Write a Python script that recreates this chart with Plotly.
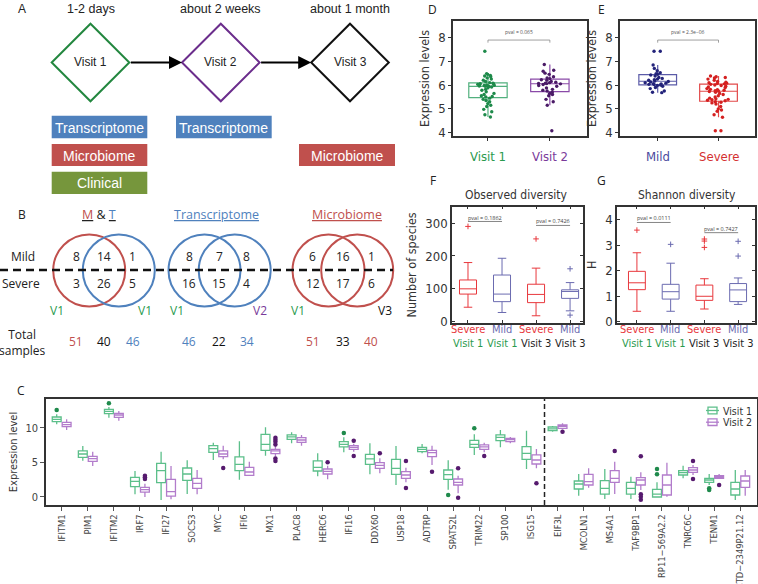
import plotly.graph_objects as go

W, H = 758, 584
def X(px): return px / W
def Y(py): return 1 - py / H

FA = "Liberation Sans, Arial, sans-serif"
FB = "Open Sans, sans-serif"
FN = "Liberation Sans Narrow, DejaVu Sans Condensed, Lato, sans-serif"

# ---------------- Panel A data ----------------
visit_names = ["Visit 1", "Visit 2", "Visit 3"]
visit_times = ["1-2 days", "about 2 weeks", "about 1 month"]
visit_colors = ["#23873f", "#6b2d8c", "#111111"]

# ---------------- Panel B data ----------------
venn_titles = ["M & T", "Transcriptome", "Microbiome"]
mt_mild, mt_severe, mt_total = [8, 14, 1], [3, 26, 5], [51, 40, 46]
tr_mild, tr_severe, tr_total = [8, 7, 8], [16, 15, 4], [46, 22, 34]
mb_mild, mb_severe, mb_total = [6, 16, 1], [12, 17, 6], [51, 33, 40]
venn_visits = [["V1", "V1"], ["V1", "V2"], ["V1", "V3"]]

# ---------------- Panel C data ----------------
genes = ["IFITM1", "PIM1", "IFITM2", "IRF7", "IFI27", "SOCS3", "MYC", "IFI6", "MX1", "PLAC8",
         "HERC6", "IFI16", "DDX60", "USP18", "ADTRP", "SPATS2L", "TRIM22", "SP100", "ISG15",
         "EIF3L", "MCOLN1", "MS4A1", "TAF9BP1", "RP11\u2212569A2.2", "TNRC6C", "TENM1",
         "CTD\u22122349P21.12"]
v1_q1 = [10.92, 5.75, 12.08, 1.50, 2.08, 2.42, 6.47, 3.82, 6.76, 8.36, 3.77, 7.25, 4.73, 3.29,
         6.57, 2.56, 7.20, 8.16, 5.46, 9.61, 1.16, 0.43, 0.43, 0.00, 3.19, 2.13, 0.29]
v1_med = [11.26, 6.23, 12.42, 2.27, 3.82, 3.33, 7.00, 4.73, 7.63, 8.70, 4.30, 7.63, 5.51, 4.15,
          6.91, 3.24, 7.63, 8.65, 6.33, 9.86, 1.88, 1.26, 1.26, 0.43, 3.53, 2.46, 1.16]
v1_q3 = [11.59, 6.67, 12.71, 2.85, 4.88, 4.20, 7.44, 5.80, 9.08, 8.99, 5.22, 8.02, 6.18, 5.46,
         7.20, 3.91, 8.21, 8.99, 7.29, 10.14, 2.32, 2.37, 2.13, 1.11, 3.82, 2.71, 2.13]
v1_lo = [10.53, 5.27, 11.50, 0.39, -0.43, 0.43, 5.36, 2.51, 5.99, 7.78, 3.00, 6.47, 3.29, 1.74,
         6.33, 1.06, 6.09, 7.20, 4.06, 9.47, 0.19, -0.29, -0.29, -0.05, 2.71, 1.74, -0.43]
v1_hi = [11.98, 7.39, 13.04, 3.77, 6.57, 5.31, 7.87, 8.07, 10.10, 9.37, 6.33, 8.65, 7.78, 7.39,
         7.68, 5.31, 9.08, 9.71, 9.61, 10.29, 3.33, 4.06, 2.95, 2.13, 4.54, 3.33, 3.91]
v2_q1 = [10.19, 5.17, 11.55, 0.72, 0.14, 1.26, 5.85, 3.14, 6.28, 7.92, 3.33, 6.91, 4.15, 2.71,
         5.85, 1.74, 6.91, 8.02, 4.78, 9.95, 1.74, 2.13, 1.74, 0.29, 3.57, 2.71, 1.40]
v2_med = [10.48, 5.56, 11.88, 1.06, 0.77, 1.98, 6.23, 3.62, 6.67, 8.26, 3.72, 7.20, 4.59, 3.19,
          6.43, 2.13, 7.25, 8.31, 5.36, 10.24, 2.22, 2.71, 2.46, 1.74, 3.91, 2.90, 2.32]
v2_q3 = [10.82, 5.89, 12.13, 1.40, 2.56, 2.71, 6.67, 4.30, 6.90, 8.60, 4.06, 7.44, 4.98, 3.67,
         6.76, 2.61, 7.54, 8.50, 6.09, 10.43, 3.29, 3.82, 2.80, 3.19, 4.25, 3.09, 3.04]
v2_lo = [9.71, 4.49, 11.06, 0.00, -0.34, 0.39, 5.46, 3.04, 5.85, 7.44, 2.56, 6.57, 3.43, 2.13,
         4.64, 0.53, 6.47, 7.78, 4.15, 9.81, 1.35, 0.43, 1.01, 0.05, 3.19, 2.61, 0.19]
v2_hi = [11.26, 6.57, 12.46, 1.93, 4.49, 3.91, 7.44, 5.12, 7.39, 8.99, 4.54, 7.73, 5.60, 4.25,
         7.44, 3.09, 7.87, 8.70, 6.96, 10.68, 4.15, 5.12, 3.57, 4.98, 4.64, 3.33, 3.91]
v1_out_genes = ["IFITM1", "IFITM2", "IFI16", "SPATS2L", "TRIM22", "RP11\u2212569A2.2",
                "RP11\u2212569A2.2", "TENM1", "TENM1"]
v1_out_vals = [12.6, 13.57, 9.28, 0.29, 9.95, 4.06, 3.29, 1.26, 1.01]
v2_out_genes = ["IRF7", "IRF7", "IRF7", "MYC", "MX1", "MX1", "MX1", "MX1", "MX1", "MX1", "HERC6",
                "IFI16", "IFI16", "DDX60", "USP18", "USP18", "ADTRP", "SPATS2L", "SPATS2L",
                "TRIM22", "ISG15", "EIF3L", "MS4A1", "TAF9BP1", "TAF9BP1", "TAF9BP1", "TAF9BP1",
                "TNRC6C", "TNRC6C", "TENM1"]
v2_out_vals = [3.09, 2.85, 2.6, 4.2, 8.6, 8.3, 8.0, 7.6, 5.56, 5.22, 5.02, 8.16, 5.94, 6.33,
               5.22, 1.3, 3.67, 4.15, -0.1, 5.94, 1.98, 9.47, 6.67, 5.89, 0.4, 0.05, -0.4,
               5.22, 2.61, 1.74]

# ---------------- Panel D / E data ----------------
d_visit1 = [7.42, 6.48, 6.45, 6.4, 6.38, 6.35, 6.3, 6.25, 6.2, 6.15, 6.1,
            6.08, 6.06, 6.05, 6.03, 6.02, 6.0, 5.99, 5.98, 5.97, 5.96, 5.95,
            5.94, 5.92, 5.88, 5.82, 5.78, 5.72, 5.65, 5.6, 5.55, 5.52, 5.5,
            5.45, 5.4, 5.35, 5.3, 5.22, 5.15, 5.1, 4.98, 4.88, 4.75, 4.66]
d_visit2 = [6.86, 6.62, 6.58, 6.5, 6.45, 6.35, 6.3, 6.27,
            6.22, 6.2, 6.15, 6.12, 6.1, 6.08, 6.07, 6.06,
            6.05, 6.02, 5.98, 5.95, 5.88, 5.82, 5.78, 5.75,
            5.7, 5.65, 5.6, 5.55, 5.4, 5.3, 5.15, 4.08]
e_mild = [7.42, 7.42, 6.84, 6.7, 6.6, 6.52, 6.48, 6.45,
          6.42, 6.38, 6.32, 6.28, 6.25, 6.22, 6.2, 6.17,
          6.15, 6.13, 6.1, 6.08, 6.06, 6.05, 6.03, 6.02,
          6.0, 5.98, 5.95, 5.9, 5.85, 5.75, 5.7, 5.68]
e_severe = [6.38, 6.35, 6.32, 6.3, 6.25, 6.2, 6.15, 6.12, 6.1, 6.08, 6.06, 6.05,
            6.03, 6.0, 5.98, 5.95, 5.92, 5.9, 5.85, 5.82, 5.8, 5.78, 5.76, 5.75,
            5.73, 5.7, 5.65, 5.6, 5.55, 5.5, 5.45, 5.42, 5.4, 5.38, 5.36, 5.34,
            5.3, 5.28, 5.25, 5.2, 5.1, 5.0, 4.95, 4.9, 4.75, 4.65, 4.08, 4.08]
d_pval, e_pval = "pval = 0.065", "pval = 2.3e\u221206"

# ---------------- Panel F / G data ----------------
fg_groups = ["Severe", "Mild", "Severe", "Mild"]
fg_visits = ["Visit 1", "Visit 1", "Visit 3", "Visit 3"]
f_q1 = [84, 61, 58, 71]
f_med = [100, 84, 83, 92]
f_q3 = [127, 142, 114, 97]
f_lo = [44, 28, 18, 33]
f_hi = [180, 193, 163, 119]
f_out_pos = [0, 2, 3, 3]
f_out_vals = [290, 252, 161, 20]
f_pvals = ["pval = 0.1862", "pval = 0.7426"]
g_q1 = [1.26, 0.89, 0.84, 0.79]
g_med = [1.53, 1.18, 1.00, 1.25]
g_q3 = [1.98, 1.47, 1.44, 1.50]
g_lo = [0.41, 0.41, 0.50, 0.68]
g_hi = [2.71, 2.30, 1.69, 1.72]
g_out_pos = [0, 1, 2, 2, 2, 3, 3]
g_out_vals = [3.6, 3.04, 3.25, 3.17, 2.92, 3.16, 2.58]
g_pvals = ["pval = 0.0111", "pval = 0.7427"]

# ---------------- colours ----------------
BLUE, RED, OLIVE = "#4f81bd", "#c0504d", "#76963c"
C_V1, C_V1D = "#5cbf8a", "#1f8a4c"
C_V2, C_V2D = "#b27ccb", "#561a6e"
D_V1L, D_V1P = "#52b07e", "#1e8a4a"
D_V2L, D_V2P = "#8a4aa8", "#4a1a66"
E_ML, E_MP = "#5b5ba8", "#23237a"
E_SL, E_SP = "#e24a4a", "#d42020"
FG_RED, FG_BLUE = "#e8383d", "#6b6bb0"
VGREEN, VPURPLE = "#2a9a4e", "#7a3a9a"

fig = go.Figure()
shapes, annotations = [], []

def ann(text, px, py, size=12, color="#222", family=FB, xanchor="center", yanchor="middle", **kw):
    annotations.append(dict(text=text, x=X(px), y=Y(py), xref="paper", yref="paper",
                            showarrow=False, font=dict(size=size, color=color, family=family),
                            xanchor=xanchor, yanchor=yanchor, **kw))

# ================= Panel A =================
ann("A", 22, 9, 12, family=FA)
dcx = [90.5, 220.8, 350.0]
dcy, dh = 62.5, 38.8
for cx, name, tm, col in zip(dcx, visit_names, visit_times, visit_colors):
    shapes.append(dict(type="path", xref="paper", yref="paper",
                       path=f"M {X(cx-dh)},{Y(dcy)} L {X(cx)},{Y(dcy-dh)} L {X(cx+dh)},{Y(dcy)} L {X(cx)},{Y(dcy+dh)} Z",
                       line=dict(color=col, width=2)))
    ann(name, cx, dcy, 12, family=FA)
    ann(tm, cx, 9, 12.5, family=FA)
for i in range(2):
    tail, head = dcx[i] + dh, dcx[i + 1] - dh
    annotations.append(dict(x=X(head), y=Y(dcy), xref="paper", yref="paper", ax=-(head - tail), ay=0,
                            text="", showarrow=True, arrowhead=2, arrowsize=1.3, arrowwidth=2,
                            arrowcolor="#000", standoff=0))
boxes_a = [("Transcriptome", BLUE, 51.7, 147.3, 115.7, 138.3),
           ("Microbiome", RED, 51.7, 147.3, 144.0, 166.0),
           ("Clinical", OLIVE, 51.7, 147.3, 171.7, 194.0),
           ("Transcriptome", BLUE, 176.0, 271.7, 115.7, 138.3),
           ("Microbiome", RED, 299.0, 395.0, 144.0, 166.0)]
for txt, col, x0, x1, y0, y1 in boxes_a:
    shapes.append(dict(type="rect", xref="paper", yref="paper", x0=X(x0), x1=X(x1), y0=Y(y1), y1=Y(y0),
                       fillcolor=col, line=dict(width=0)))
    ann(txt, (x0 + x1) / 2, (y0 + y1) / 2 + 0.5, 14, color="white", family=FA)

# ================= Panel B =================
ann("B", 21.7, 215, 12)
ann(f"<u><span style='color:{RED}'>M</span></u> &amp; <u><span style='color:{BLUE}'>T</span></u>", 99, 215, 12.5)
ann(f"<u>{venn_titles[1]}</u>", 216.7, 215, 12.5, color=BLUE)
ann(f"<u>{venn_titles[2]}</u>", 346.7, 215, 12.5, color=RED)
circles = [(89.2, RED), (118.8, BLUE), (204.5, BLUE), (234.7, BLUE), (328.5, RED), (357.2, RED)]
for cx, col in circles:
    shapes.append(dict(type="circle", xref="paper", yref="paper", x0=X(cx - 36), x1=X(cx + 36),
                       y0=Y(306.5), y1=Y(234.5), line=dict(color=col, width=2)))
shapes.append(dict(type="line", xref="paper", yref="paper", x0=0, x1=X(393), y0=Y(270), y1=Y(270),
                   line=dict(color="#111", width=2.5, dash="8px,5px")))
ann("Mild", 22.7, 257, 12)
ann("Severe", 21, 283, 12)
ann("Total<br>samples", 22, 342, 12)
col_x = [[76, 104.3, 132.7], [189, 219.3, 246.7], [312.7, 342.7, 371]]
totals_colors = [[RED, "#111", BLUE], [BLUE, "#111", BLUE], [RED, "#111", RED]]
for cols, mild, sev, tot, tc in zip(col_x, [mt_mild, tr_mild, mb_mild], [mt_severe, tr_severe, mb_severe],
                                     [mt_total, tr_total, mb_total], totals_colors):
    for x, m, s, t, c in zip(cols, mild, sev, tot, tc):
        ann(str(m), x, 257, 12)
        ann(str(s), x, 283, 12)
        ann(str(t), x, 341.7, 12, color=c)
v_pos = [(57.3, 145), (176.7, 260), (298.3, 385)]
v_colors = {"V1": VGREEN, "V2": VPURPLE, "V3": "#111"}
for (xa, xb), (la, lb) in zip(v_pos, venn_visits):
    ann(la, xa, 310, 12, color=v_colors[la])
    ann(lb, xb, 310, 12, color=v_colors[lb])

# ================= Panel C =================
idx = list(range(len(genes)))
off = 0.19
fig.add_trace(go.Box(x=[i - off for i in idx], q1=v1_q1, median=v1_med, q3=v1_q3,
                     lowerfence=v1_lo, upperfence=v1_hi, width=0.34, whiskerwidth=0,
                     line=dict(color=C_V1, width=1.3), fillcolor="rgba(255,255,255,0)",
                     showlegend=False, boxpoints=False, xaxis="x", yaxis="y"))
fig.add_trace(go.Box(x=[i + off for i in idx], q1=v2_q1, median=v2_med, q3=v2_q3,
                     lowerfence=v2_lo, upperfence=v2_hi, width=0.34, whiskerwidth=0,
                     line=dict(color=C_V2, width=1.3), fillcolor="rgba(255,255,255,0)",
                     showlegend=False, boxpoints=False, xaxis="x", yaxis="y"))
fig.add_trace(go.Scatter(x=[genes.index(g) - off for g in v1_out_genes], y=v1_out_vals, mode="markers",
                         marker=dict(size=4.5, color=C_V1D), showlegend=False, xaxis="x", yaxis="y"))
fig.add_trace(go.Scatter(x=[genes.index(g) + off for g in v2_out_genes], y=v2_out_vals, mode="markers",
                         marker=dict(size=4.5, color=C_V2D), showlegend=False, xaxis="x", yaxis="y"))
shapes.append(dict(type="line", xref="x", yref="y domain", x0=18.5, x1=18.5, y0=0, y1=1,
                   line=dict(color="#222", width=1.5, dash="5px,3px")))
ann("C", 20.7, 390, 12)
# legend
for (lbl, col), yc in zip([("Visit 1", C_V1), ("Visit 2", C_V2)], [410.5, 422.2]):
    shapes.append(dict(type="rect", xref="paper", yref="paper", x0=X(708), x1=X(717),
                       y0=Y(yc + 3.3), y1=Y(yc - 3.3), line=dict(color=col, width=1.3)))
    shapes.append(dict(type="line", xref="paper", yref="paper", x0=X(706), x1=X(719),
                       y0=Y(yc), y1=Y(yc), line=dict(color=col, width=1.3)))
    ann(lbl, 721, yc, 10.5, color="#333", family=FN, xanchor="left")

# ================= Panel D / E =================
for data, x0, lc, pc, xa, ya in [(d_visit1, 0, D_V1L, D_V1P, "x2", "y2"), (d_visit2, 1, D_V2L, D_V2P, "x2", "y2"),
                                 (e_mild, 0, E_ML, E_MP, "x3", "y3"), (e_severe, 1, E_SL, E_SP, "x3", "y3")]:
    fig.add_trace(go.Box(y=data, x0=x0, width=0.62, boxpoints="all", jitter=0.7, pointpos=0,
                         whiskerwidth=0, line=dict(color=lc, width=1.2), fillcolor="rgba(255,255,255,0)",
                         marker=dict(size=3.4, color=pc), showlegend=False, xaxis=xa, yaxis=ya))
for xa, ya, txt in [("x2", "y2", d_pval), ("x3", "y3", e_pval)]:
    fig.add_trace(go.Scatter(x=[0, 0, 1, 1], y=[7.78, 7.89, 7.89, 7.78], mode="lines",
                             line=dict(color="#888", width=0.8), showlegend=False, xaxis=xa, yaxis=ya))
    annotations.append(dict(text=txt, x=0.5, y=8.02, xref=xa, yref=ya, showarrow=False,
                            font=dict(size=5, color="#555", family=FB), yanchor="bottom"))
ann("D", 432.7, 9, 12)
ann("E", 601.7, 9, 12)
for xa, labels in [("x2", [("Visit 1", VGREEN), ("Visit 2", VPURPLE)]),
                   ("x3", [("Mild", "#4a4a9e"), ("Severe", "#d43030")])]:
    for i, (lbl, col) in enumerate(labels):
        annotations.append(dict(text=lbl, x=i, y=Y(146.7), xref=xa, yref="paper", showarrow=False,
                                font=dict(size=13, color=col, family=FN)))

# ================= Panel F / G =================
for xa, ya, q1, md, q3, lo, hi, op, ov in [("x4", "y4", f_q1, f_med, f_q3, f_lo, f_hi, f_out_pos, f_out_vals),
                                            ("x5", "y5", g_q1, g_med, g_q3, g_lo, g_hi, g_out_pos, g_out_vals)]:
    for sel, col in [([0, 2], FG_RED), ([1, 3], FG_BLUE)]:
        fig.add_trace(go.Box(x=sel, q1=[q1[i] for i in sel], median=[md[i] for i in sel],
                             q3=[q3[i] for i in sel], lowerfence=[lo[i] for i in sel],
                             upperfence=[hi[i] for i in sel], width=0.5, whiskerwidth=0.5,
                             line=dict(color=col, width=1), fillcolor="rgba(255,255,255,0)",
                             boxpoints=False, showlegend=False, xaxis=xa, yaxis=ya))
        pts = [(p, v) for p, v in zip(op, ov) if p in sel]
        fig.add_trace(go.Scatter(x=[p for p, v in pts], y=[v for p, v in pts], mode="markers",
                                 marker=dict(symbol="cross-thin", size=4, line=dict(color=col, width=1)),
                                 showlegend=False, xaxis=xa, yaxis=ya))
for xa, ya, pv, ys in [("x4", "y4", f_pvals, [(305, 317), (293, 305)]),
                       ("x5", "y5", g_pvals, [(3.9, 4.06), (3.5, 3.66)])]:
    for (a, b), txt, (yl, yt) in zip([(0, 1), (2, 3)], pv, ys):
        fig.add_trace(go.Scatter(x=[a, b], y=[yl, yl], mode="lines", line=dict(color="#777", width=0.9),
                                 showlegend=False, xaxis=xa, yaxis=ya))
        annotations.append(dict(text=txt, x=(a + b) / 2, y=yt, xref=xa, yref=ya, showarrow=False,
                                font=dict(size=5.5, color="#444", family=FB)))
ann("F", 432.7, 180, 12)
ann("G", 601.7, 180, 12)
ann("Observed diversity", 516.7, 195, 12, color="#333", family=FN)
ann("Shannon diversity", 686.7, 195, 12, color="#333", family=FN)
grp_col = {"Severe": FG_RED, "Mild": FG_BLUE}
for xa in ["x4", "x5"]:
    for i, (g, v) in enumerate(zip(fg_groups, fg_visits)):
        vc = VGREEN if v == "Visit 1" else "#222"
        annotations.append(dict(text=f"<span style='color:{grp_col[g]}'>{g}</span><br><span style='color:{vc}'>{v}</span>",
                                x=i, y=Y(336), xref=xa, yref="paper", showarrow=False,
                                font=dict(size=11, family=FN), yanchor="middle"))

# ================= Axes =================
frame = dict(showline=True, mirror=True, linecolor="#333", linewidth=1.5, showgrid=False, zeroline=False,
             automargin=False)
fig.update_layout(
    width=W, height=H, margin=dict(l=0, r=0, t=0, b=0), template="none",
    paper_bgcolor="white", plot_bgcolor="white", font=dict(family=FB, color="#222"),
    showlegend=False,
    xaxis=dict(domain=[X(46), X(756.7)], range=[-0.6, 26.63], tickvals=idx, ticktext=genes, tickangle=-90,
               ticks="outside", ticklen=4, tickcolor="#555", tickfont=dict(size=9.3, color="#444", family=FN),
               anchor="y", **frame),
    yaxis=dict(domain=[Y(505), Y(399)], range=[-1.16, 14.2], tickvals=[0, 5, 10], ticks="outside", ticklen=4,
               tickcolor="#555", tickfont=dict(size=11, color="#444", family=FN),
               title=dict(text="Expression level", font=dict(size=11, color="#333", family=FN), standoff=6),
               anchor="x", **frame),
    xaxis2=dict(domain=[X(453), X(587)], range=[-0.565, 1.6], tickvals=[0, 1], showticklabels=False,
                ticks="outside", ticklen=3, tickcolor="#333", anchor="y2", **frame),
    yaxis2=dict(domain=[Y(136), Y(21)], range=[3.86, 8.69], tickvals=[4, 5, 6, 7, 8], ticks="outside",
                ticklen=3, tickcolor="#333", tickfont=dict(size=13, color="#333", family=FN),
                title=dict(text="Expression levels", font=dict(size=12.5, color="#333", family=FN), standoff=6),
                anchor="x2", **frame),
    xaxis3=dict(domain=[X(620), X(755)], range=[-0.62, 1.6], tickvals=[0, 1], showticklabels=False,
                ticks="outside", ticklen=3, tickcolor="#333", anchor="y3", **frame),
    yaxis3=dict(domain=[Y(136), Y(21)], range=[3.86, 8.69], tickvals=[4, 5, 6, 7, 8], ticks="outside",
                ticklen=3, tickcolor="#333", tickfont=dict(size=13, color="#333", family=FN),
                title=dict(text="Expression levels", font=dict(size=12.5, color="#333", family=FN), standoff=6),
                anchor="x3", **frame),
    xaxis4=dict(domain=[X(452), X(583)], range=[-0.47, 3.38], tickvals=[0, 1, 2, 3], showticklabels=False,
                ticks="inside", ticklen=3, tickcolor="#333", anchor="y4",
                **{**frame, "mirror": "ticks"}),
    yaxis4=dict(domain=[Y(323), Y(206.7)], range=[-4, 350], tickvals=[0, 100, 200, 300], ticks="inside",
                ticklen=3, tickcolor="#333", tickfont=dict(size=13, color="#333", family=FN),
                title=dict(text="Number of species", font=dict(size=12.5, color="#333", family=FN), standoff=6),
                anchor="x4", **{**frame, "mirror": "ticks"}),
    xaxis5=dict(domain=[X(617), X(755)], range=[-0.59, 3.5], tickvals=[0, 1, 2, 3], showticklabels=False,
                ticks="inside", ticklen=3, tickcolor="#333", anchor="y5",
                **{**frame, "mirror": "ticks"}),
    yaxis5=dict(domain=[Y(323), Y(206.7)], range=[-0.05, 4.52], tickvals=[0, 1, 2, 3, 4], ticks="inside",
                ticklen=3, tickcolor="#333", tickfont=dict(size=13, color="#333", family=FN),
                title=dict(text="H", font=dict(size=12.5, color="#333", family=FN), standoff=6),
                anchor="x5", **{**frame, "mirror": "ticks"}),
    shapes=shapes, annotations=annotations,
)

fig.write_html("out.html", config={"displayModeBar": False},
               post_script="document.body.style.margin='0';document.body.style.overflow='hidden';")
